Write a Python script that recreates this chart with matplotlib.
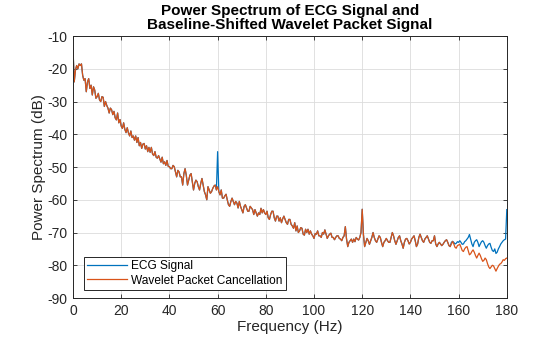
import numpy as np
import matplotlib
matplotlib.use('Agg')
import matplotlib.pyplot as plt

plt.rcParams['font.family'] = ['Liberation Sans', 'DejaVu Sans']
plt.rcParams['axes.unicode_minus'] = False  # MATLAB style hyphen minus

# frequency grid (Hz), 0.5 Hz steps
freq = np.arange(0, 180.5, 0.5)

# wavelet packet cancellation spectrum (dB)
wpd_db = [
    -14, -24, -20.5, -19, -20, -18.5, -19, -18.5, -22, -23.5,
    -23, -27, -24, -23, -26, -25, -28, -25.5, -26.5, -29,
    -28.5, -27.5, -29.5, -30, -28.5, -28.7, -31.5, -30, -31.2, -32,
    -33.5, -32, -32.5, -34, -33, -35, -35.6, -33.5, -36.5, -35.5,
    -37.5, -38.2, -36.5, -38.5, -39.5, -38, -39.6, -40.5, -39, -41,
    -40.5, -41.8, -40.5, -42.5, -41, -43.5, -42.5, -44.3, -43, -42.8,
    -44.5, -43.5, -45.3, -44, -45.5, -44, -46, -46.5, -45.3, -47,
    -47.3, -46.5, -47.5, -48.5, -47, -49, -48.4, -49.5, -48, -49.8,
    -49.9, -50.5, -50.5, -49.5, -49.9, -51.5, -53, -51, -51.5, -53,
    -53, -55.5, -52, -50.5, -52.5, -55.5, -54, -52.5, -52, -54.5,
    -57, -55, -54, -54.5, -56, -57, -55, -53.5, -55.5, -57.5,
    -58.5, -60, -56, -57, -58, -57.5, -56.5, -55.8, -55.5, -57,
    -56, -57.5, -58.5, -57, -59.5, -59.5, -58.8, -58.3, -60, -61.5,
    -62, -60.5, -59.5, -60.5, -61.5, -60.5, -61, -62.5, -60.5, -62,
    -63, -64, -62, -61.5, -62.5, -63.5, -63.5, -62, -62.5, -63,
    -64.5, -63, -64, -65, -64, -64.5, -62.6, -64, -63, -64,
    -64.5, -63.5, -65.5, -66, -64.5, -63.5, -63.5, -65.5, -66.5, -65,
    -65, -66.5, -65.5, -67, -65.8, -65, -66, -67, -67.5, -66,
    -66, -67.5, -68, -68.7, -67, -69.5, -68, -70, -69.5, -68.5,
    -68.7, -70.5, -70.8, -69, -70, -69, -70.5, -69.5, -70.5, -71,
    -71.8, -70.3, -70.5, -69.5, -71, -71, -71.5, -70, -70.5, -69.2,
    -70.5, -71.8, -71, -70.5, -70.2, -71.5, -71.5, -72.2, -71.5, -71,
    -71, -71.8, -72, -72.5, -71.5, -71, -68.2, -72, -74.3, -73,
    -72.5, -72, -73, -72, -72.8, -71.5, -72, -72.3, -71.5, -70,
    -62.9, -70.5, -74.3, -73, -71.8, -72.5, -73.6, -72.5, -71.5, -70,
    -71.5, -72.5, -73, -72, -71, -71.5, -73, -74.3, -73, -72.5,
    -71.8, -72.5, -73, -73, -71.5, -70, -71, -72.5, -73.6, -72.5,
    -71.5, -71, -72.5, -73.5, -74.8, -73, -72, -71.8, -72.5, -73.5,
    -73, -72, -71.5, -71, -72.5, -74.3, -73.5, -71.5, -70.5, -71.5,
    -72.5, -73, -72, -71.5, -71, -72, -73, -73.3, -72.5, -72.5,
    -71, -73.5, -74.3, -73.5, -73, -73.5, -74, -73.6, -73, -72.5,
    -72.2, -73, -74, -74.3, -73.5, -72.7, -73.5, -74.5, -74.8, -74,
    -73.8, -73.6, -74.5, -75.5, -75.8, -75, -74.5, -74.3, -75.5, -76.8,
    -76.5, -75.8, -75.3, -76, -77, -77.8, -77, -76.3, -77, -78,
    -78.8, -78.5, -77.8, -78.3, -79.5, -80.5, -81, -80.5, -80, -80.2,
    -81, -81.8, -81, -80.3, -79.7, -79.5, -79, -78.3, -78.5, -78,
    -77.8,
]

# ECG signal: same as above except the 60 Hz line and the top end
ecg_spike_hz = 60
ecg_spike_db = -45.3
ecg_tail_start = 157
ecg_tail_db = [
    -73, -72.7, -73, -73.5, -73.3, -72.8,
    -73, -72.5, -73, -73.6, -73.5, -72.8, -72.5, -72, -71.5, -70.6,
    -72, -73.5, -74.3, -73, -72.5, -72.2, -73, -74.3, -73.5, -72.8,
    -72.5, -73, -74, -74.8, -74, -73.5, -73.3, -74.5, -75.5, -75.8,
    -75, -76.4, -76, -75, -74.3, -73.5, -73, -72.5, -72.2, -72,
    -63,
]

ecg_db = np.array(wpd_db, dtype=float)
ecg_db[int(ecg_spike_hz * 2)] = ecg_spike_db
ecg_db[int(ecg_tail_start * 2):] = ecg_tail_db

fig = plt.figure(figsize=(5.6, 3.37), dpi=100)
ax = fig.add_axes([0.1304, 0.1157, 0.7746, 0.7773])

ax.plot(freq, ecg_db, color='#0072BD', lw=0.9, label='ECG Signal')
ax.plot(freq, wpd_db, color='#D95319', lw=0.9, label='Wavelet Packet Cancellation')

ax.set_xlim(0, 180)
ax.set_ylim(-90, -10)
ax.set_xticks(np.arange(0, 181, 20))
ax.set_yticks(np.arange(-90, -9, 10))
ax.grid(True, color='#dcdcdc', lw=0.6)
ax.set_axisbelow(True)
ax.tick_params(direction='in', top=True, right=True, length=3, width=0.6,
               labelsize=10, colors='#262626', pad=4)
for s in ax.spines.values():
    s.set_linewidth(0.7)
    s.set_color('#262626')

ax.set_xlabel('Frequency (Hz)', fontsize=11, color='#262626', labelpad=2)
ax.set_ylabel('Power Spectrum (dB)', fontsize=11, color='#262626', labelpad=1)
ax.set_title('Power Spectrum of ECG Signal and\nBaseline-Shifted Wavelet Packet Signal',
             fontsize=11, fontweight='bold', linespacing=1.0, pad=5)

leg = ax.legend(loc='lower left', bbox_to_anchor=(0.025, 0.03), fontsize=8.6,
                fancybox=False, framealpha=1, edgecolor='#262626',
                borderpad=0.3, labelspacing=0.2, handlelength=3.3,
                handletextpad=0.35, borderaxespad=0)
leg.get_frame().set_linewidth(0.7)

fig.savefig('out.png', dpi=100)
